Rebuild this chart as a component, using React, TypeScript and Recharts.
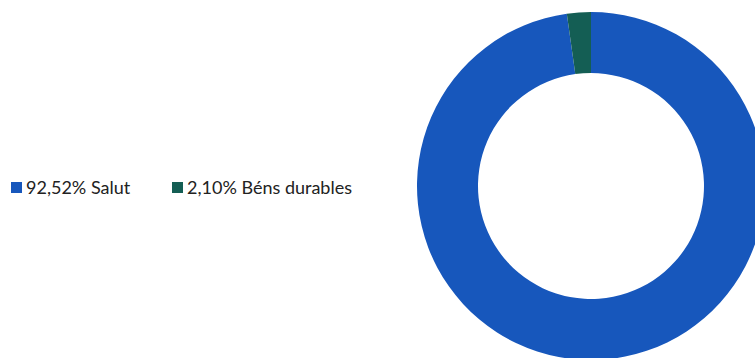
import { PieChart, Pie, Cell, Legend } from 'recharts'

const labels = ['Salut', 'Béns durables']
const values = [92.52, 2.1]
const colors = ['#1757BC', '#145E54']

const data = labels.map((name, i) => ({ name, value: values[i], color: colors[i] }))

const fmt = (v: number) => v.toFixed(2).replace('.', ',') + '%'

const renderLegend = () => (
  <div style={{ position: 'relative', height: 22 }}>
    {data.map((d, i) => (
      <div
        key={d.name}
        style={{
          position: 'absolute',
          left: i === 0 ? 0 : 161,
          top: 0,
          display: 'flex',
          alignItems: 'center',
          whiteSpace: 'nowrap',
          fontFamily: 'Lato, "Open Sans", sans-serif',
          fontSize: 18,
          color: '#222',
        }}
      >
        <span style={{ display: 'inline-block', width: 11, height: 11, background: d.color, marginRight: 4 }} />
        {`${fmt(d.value)} ${d.name}`}
      </div>
    ))}
  </div>
)

export default function App() {
  return (
    <div style={{ position: 'absolute', left: 0, top: 0 }}>
      <PieChart width={755} height={358} margin={{ top: 0, right: 0, bottom: 0, left: 0 }}>
        <Pie
          data={data}
          dataKey="value"
          cx={591}
          cy={186}
          innerRadius={113}
          outerRadius={174}
          startAngle={90}
          endAngle={-270}
          stroke="none"
          isAnimationActive={false}
        >
          {data.map((d, i) => (
            <Cell key={`cell-${i}`} fill={d.color} />
          ))}
        </Pie>
        <Legend
          content={renderLegend}
          wrapperStyle={{ left: 11, top: 176, width: 380 }}
        />
      </PieChart>
    </div>
  )
}
